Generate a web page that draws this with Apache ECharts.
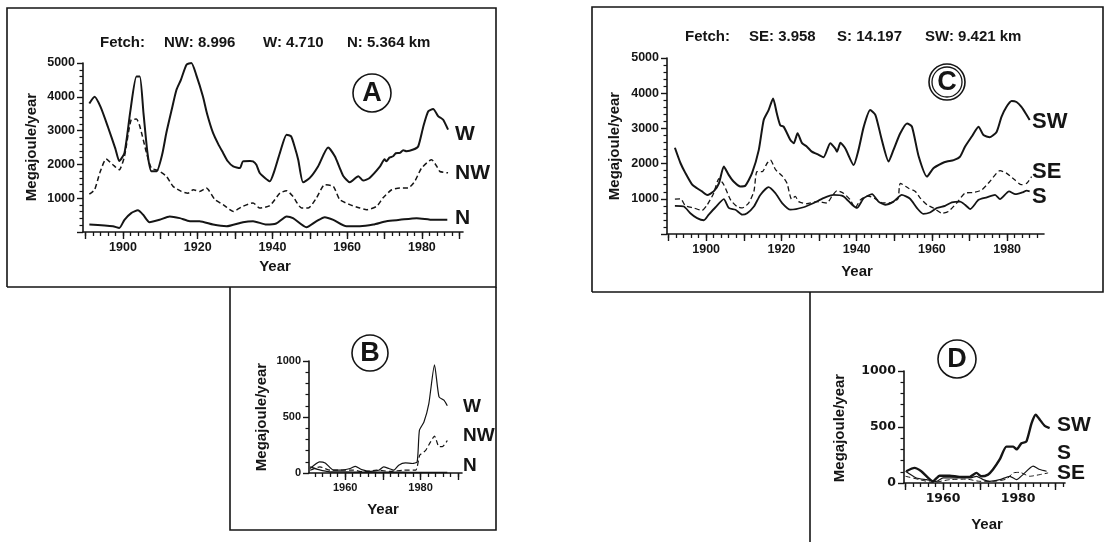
<!DOCTYPE html>
<html><head><meta charset="utf-8">
<script src="https://cdn.jsdelivr.net/npm/echarts@6/dist/echarts.min.js"></script>
<style>html,body{margin:0;padding:0;background:#fff}#c{width:1105px;height:542px}</style>
</head><body><div id="c"></div>
<script>
// ---------- DATA (year, Megajoule/year) ----------
const A_W = [[1891,3800],[1892.4,4000],[1894,3700],[1896,3100],[1898,2450],[1899,2100],[1900.4,2340],[1902,3600],[1903.6,4600],[1904.5,4600],[1905.5,3500],[1906.6,2300],[1907.6,1800],[1909,1800],[1910.5,2300],[1911.6,2930],[1913,3600],[1914.3,4200],[1915.5,4500],[1917,4950],[1918.3,5000],[1919.6,4650],[1921.4,4010],[1922.5,3500],[1924.1,2930],[1925.5,2600],[1926.8,2340],[1928,2100],[1929.5,1940],[1931.3,1890],[1932.1,2090],[1934,2100],[1934.8,2090],[1935.7,1990],[1936.6,1745],[1938,1600],[1939.3,1500],[1940.5,1800],[1942,2340],[1943.8,2880],[1945,2830],[1946,2500],[1946.9,2140],[1948.2,1470],[1950,1600],[1952.2,1940],[1954.9,2500],[1956.7,2240],[1958,1900],[1959,1650],[1960.7,1470],[1963,1650],[1964.3,1520],[1966,1600],[1968.8,1940],[1970,2150],[1970.5,2090],[1971.3,2200],[1972.3,2240],[1973,2330],[1974.1,2340],[1975,2420],[1975.9,2390],[1977.7,2440],[1979,2530],[1980.4,3130],[1981.7,3570],[1983,3640],[1984.4,3420],[1985,3380],[1985.7,3320],[1987,3030]];
const A_NW = [[1891,1120],[1892.4,1250],[1893.8,1750],[1895.5,2160],[1897.3,1990],[1899,1840],[1900.4,2240],[1902.2,3320],[1903.6,3340],[1904.5,3130],[1906.3,2340],[1907.6,1890],[1909.4,1820],[1911.6,1650],[1913.4,1350],[1915.6,1200],[1917.4,1150],[1918.8,1250],[1920.5,1200],[1922.3,1300],[1924.6,960],[1926.8,810],[1929.5,610],[1932.1,760],[1934.8,860],[1936.6,710],[1939.3,780],[1942,1150],[1943.8,1220],[1945.5,1050],[1947.8,710],[1949.6,710],[1951.8,1010],[1954,1400],[1956.3,1350],[1958,960],[1960.7,810],[1963.4,710],[1965.2,660],[1967.9,760],[1969.6,1010],[1971.9,1250],[1974.1,1300],[1976.3,1300],[1978.1,1500],[1979.9,1890],[1982.6,2140],[1984,1940],[1984.8,1790],[1987,1750]];
const A_N = [[1891,220],[1897.3,170],[1899,120],[1900.4,360],[1902.2,560],[1904,640],[1905.4,510],[1907.1,290],[1909.8,360],[1912.5,460],[1915.2,410],[1917.9,320],[1920.5,320],[1924.1,220],[1927.7,170],[1932.1,290],[1934.8,320],[1938.4,220],[1941,250],[1943.8,460],[1945.5,410],[1949.1,140],[1951.8,320],[1954,440],[1956.3,360],[1959.8,170],[1963.4,170],[1967,220],[1970.5,320],[1974.1,360],[1978.6,410],[1983,360],[1986.8,360]];

const C_SW = [[1891.7,2450],[1893.2,2010],[1894.5,1730],[1896.3,1400],[1897.6,1300],[1898.9,1210],[1900.3,1110],[1902,1210],[1903.4,1440],[1904.7,1920],[1906,1680],[1907.3,1490],[1909.1,1350],[1910.4,1370],[1912.2,1730],[1914,2390],[1915.3,3240],[1916.6,3520],[1917.8,3850],[1918.8,3420],[1919.7,3090],[1920.6,3050],[1922.4,2670],[1923.3,2580],[1924.3,2860],[1925.5,2580],[1926.8,2480],[1928.1,2340],[1929.9,2250],[1931.2,2180],[1933,2580],[1934.3,2430],[1934.8,2340],[1935.7,2590],[1937,2430],[1939.2,1960],[1940.5,2390],[1941.9,3050],[1943.6,3520],[1945,3380],[1946.7,2670],[1948.5,2060],[1949.8,2390],[1951.6,2860],[1953.4,3140],[1954.7,3050],[1956.5,2200],[1958.7,1630],[1960.4,1870],[1962.7,2010],[1964,2060],[1965.8,2100],[1967.5,2200],[1968.8,2480],[1970.6,2770],[1972.4,3050],[1973.7,2810],[1975.4,2750],[1977.2,2900],[1978.5,3330],[1979.8,3610],[1981.2,3780],[1982.5,3750],[1983.8,3610],[1985.2,3380],[1986,3240]];
const C_SE = [[1891.7,990],[1893.2,1000],[1894.5,800],[1896.7,740],[1898.9,670],[1900.3,830],[1902,1160],[1903.4,1570],[1904.7,1400],[1906.5,970],[1908.2,780],[1909.6,740],[1911.3,880],[1912.7,1210],[1913.5,1770],[1914.9,1770],[1916.2,2010],[1917.1,2100],[1918.5,1820],[1920.2,1650],[1921.5,1440],[1922.7,990],[1923.7,1070],[1924.6,920],[1926.8,860],[1929.5,920],[1932.1,880],[1933.5,1080],[1934.8,1230],[1936.5,1160],[1938.3,970],[1939.6,740],[1941,970],[1943,1080],[1945,1000],[1947,880],[1949.5,900],[1951,1000],[1951.6,1440],[1953.8,1300],[1955.6,1210],[1956.9,1020],[1958.7,830],[1960.4,740],[1962.7,590],[1964.4,640],[1966.6,880],[1968.8,1160],[1971,1180],[1973.2,1250],[1975.4,1490],[1978.1,1800],[1979.8,1730],[1982,1540],[1983.8,1400],[1985.2,1440],[1986.5,1630]];
const C_S = [[1891.7,800],[1894.1,780],[1895.8,590],[1897.6,450],[1899.4,390],[1900.7,550],[1902.5,760],[1904.7,990],[1906,740],[1907.8,690],[1909.6,550],[1910.9,590],[1912.7,780],[1914.4,1110],[1916.6,1330],[1918.4,1160],[1920.2,880],[1922.4,690],[1925.9,760],[1928.6,880],[1931.2,1020],[1933.9,1110],[1936.5,1070],[1938.8,830],[1940.1,740],[1941.9,1020],[1944.1,1130],[1945.8,920],[1947.6,830],[1949.8,920],[1952,1110],[1954.2,1000],[1956,740],[1957.7,570],[1959.5,610],[1961.3,740],[1963.5,800],[1965.3,900],[1967.5,920],[1968.8,830],[1970.2,710],[1972.4,970],[1974.6,1040],[1976.8,1110],[1978.1,990],[1980.5,1210],[1982.2,1130],[1984,1180],[1985.2,1230],[1986,1210]];

const B_W = [[1950.7,40],[1953.2,100],[1954.7,90],[1956.9,25],[1958.7,25],[1961.3,40],[1962.7,60],[1964.4,30],[1966.7,15],[1968.9,25],[1970.2,55],[1971.6,40],[1972.9,25],[1974.2,70],[1976,90],[1977.8,85],[1979.1,100],[1979.7,380],[1980.9,455],[1982.2,620],[1983.7,965],[1984.9,680],[1986.2,650],[1987.1,600]];
const B_NW = [[1950.7,25],[1953.3,55],[1956,25],[1958.7,25],[1962.2,25],[1964.9,10],[1968.4,25],[1972,15],[1975.6,25],[1978.7,25],[1979.8,160],[1981.3,200],[1982.7,280],[1983.7,330],[1984.9,235],[1985.8,235],[1987.1,290]];
const B_N = [[1950.7,55],[1953,30],[1956,10],[1960,8],[1965,6],[1970,6],[1975,6],[1980,5],[1984,5],[1987.1,5]];

const D_SW = [[1950.2,105],[1952.4,135],[1954.2,105],[1957.3,15],[1959.1,65],[1961.8,65],[1964.4,55],[1967.1,55],[1968.9,90],[1970.2,60],[1972,75],[1973.3,120],[1975.1,210],[1976.9,325],[1978.7,325],[1979.6,300],[1980.9,355],[1982.2,370],[1983.6,535],[1984.7,610],[1985.8,565],[1987.1,510],[1988.4,490]];
const D_S = [[1950,105],[1952.9,45],[1955.6,30],[1958.2,15],[1960,45],[1963.6,45],[1967.1,45],[1968.9,60],[1970.7,30],[1972.4,15],[1975.1,30],[1977.8,60],[1979.6,30],[1981.3,75],[1984,150],[1985.8,120],[1987.6,105]];
const D_SE = [[1950,60],[1953.8,30],[1957.3,5],[1961.8,30],[1966.2,35],[1969.8,15],[1973.3,15],[1976.9,35],[1978.7,90],[1980.4,95],[1983.1,60],[1985.8,75],[1988,90]];

const xLabelsLong = [1900,1920,1940,1960,1980];
const xLabelsShort = [1960,1980];
const titleA = ['Fetch:','NW: 8.996','W: 4.710','N: 5.364 km'];
const titleC = ['Fetch:','SE: 3.958','S: 14.197','SW: 9.421 km'];

// ---------- helpers ----------
const INK = '#151515';
const BOLD = 'bold 15px "Liberation Sans", Arial, sans-serif';
function range(a,b,s){const r=[];for(let v=a;v<=b+1e-9;v+=s)r.push(v);return r;}

const grids = [
  {left:83, top:63, width:380, height:169},   // A
  {left:309, top:361, width:153, height:112}, // B
  {left:667, top:58, width:377, height:176},  // C
  {left:904, top:371, width:161, height:112}  // D
];
const xr = [[1889.3,1991],[1950.4,1991],[1889.6,1989.8],[1949.6,1992.5]];
const xlab = [xLabelsLong, xLabelsShort, xLabelsLong, xLabelsShort];
const tickFont = [12.5,11,12.5,12.5];
const tickFam = ['"Liberation Sans", Arial','"Liberation Sans", Arial','"Liberation Sans", Arial','"DejaVu Sans", sans-serif'];

const xAxes = [], yAxes = [];
grids.forEach((g,i)=>{
  const [mn,mx] = xr[i];
  xAxes.push({type:'value', gridIndex:i, min:mn, max:mx, position:'bottom',
    axisLine:{lineStyle:{color:INK,width:1.6}},
    axisTick:{customValues:range(Math.ceil(mn/2)*2,mx,2), length:4, lineStyle:{color:INK,width:1.3}},
    axisLabel:{customValues:xlab[i], color:INK, fontWeight:'bold', fontSize:tickFont[i], fontFamily:tickFam[i], margin:9,
      formatter: v => String(Math.round(v))},
    splitLine:{show:false}});
  xAxes.push({type:'value', gridIndex:i, min:mn, max:mx, position:'bottom',
    axisLine:{show:false},
    axisTick:{customValues:range(Math.ceil(mn/10)*10,mx,10), length:7, lineStyle:{color:INK,width:1.4}},
    axisLabel:{show:false}, splitLine:{show:false}});
  const big = (i===0||i===2);
  yAxes.push({type:'value', gridIndex:i, min:0, max: big?5000:1000, interval: big?1000:500,
    axisLine:{show:true, lineStyle:{color:INK,width:1.6}},
    axisTick:{show:true, length:6, lineStyle:{color:INK,width:1.4}},
    minorTick:{show:true, splitNumber:5, length:3.5, lineStyle:{color:INK,width:1.2}},
    axisLabel:{color:INK, fontWeight:'bold', fontSize:tickFont[i], fontFamily:tickFam[i], margin:8,
      formatter: v => (big && v===0) ? '' : String(Math.round(v))},
    splitLine:{show:false}});
});

function ser(data, gi, width, dashed){
  return {type:'line', data, xAxisIndex:gi*2, yAxisIndex:gi, showSymbol:false, smooth:0.2,
    lineStyle:{color:INK, width, type: dashed ? [5,3] : 'solid'}, silent:true, animation:false, z:3};
}
const series = [
  ser(A_W,0,2,false), ser(A_NW,0,1.5,true), ser(A_N,0,2,false),
  ser(B_W,1,1.2,false), ser(B_NW,1,1.2,true), ser(B_N,1,1.5,false),
  ser(C_SW,2,2,false), ser(C_SE,2,1.3,true), ser(C_S,2,1.8,false),
  ser(D_SW,3,2.4,false), ser(D_S,3,1.2,false), ser(D_SE,3,1,true)
];

// ---------- graphics: frames, titles, names, labels ----------
const G = [];
function line(pts,w){G.push({type:'polyline', shape:{points:pts}, style:{stroke:INK, lineWidth:w||1.6, fill:null}, silent:true});}
function txt(x,y,t,font,align,rot){
  G.push({type:'text', x, y, rotation: rot||0, style:{x:0,y:0,text:t,font,fill:INK,align:align||'left',verticalAlign:'middle'}, silent:true});
}
function circ(cx,cy,r,letter,dbl){
  G.push({type:'circle', shape:{cx,cy,r}, style:{stroke:INK,lineWidth:1.6,fill:'#fff'}, silent:true});
  if(dbl) G.push({type:'circle', shape:{cx,cy,r:r-3}, style:{stroke:INK,lineWidth:1.3,fill:null}, silent:true});
  txt(cx,cy+1,letter,'bold 27px "Liberation Sans", Arial, sans-serif','center');
}
// frames
line([[7,287],[7,8],[496,8],[496,287],[7,287]]);
line([[230,287],[230,530],[496,530],[496,287]]);
line([[592,292],[592,7],[1103,7],[1103,292],[592,292]]);
line([[810,292],[810,542]]);
// titles
const tA=[100,164,263,347]; titleA.forEach((t,i)=>txt(tA[i],43,t,BOLD,'left'));
const tC=[685,749,837,925]; titleC.forEach((t,i)=>txt(tC[i],37,t,BOLD,'left'));
// axis names
txt(32,147,'Megajoule/year',BOLD,'center',Math.PI/2);
txt(275,267,'Year',BOLD,'center');
txt(615,146,'Megajoule/year',BOLD,'center',Math.PI/2);
txt(857,272,'Year',BOLD,'center');
txt(262,417,'Megajoule/year',BOLD,'center',Math.PI/2);
txt(383,510,'Year',BOLD,'center');
txt(840,428,'Megajoule/year',BOLD,'center',Math.PI/2);
txt(987,525,'Year',BOLD,'center');
// series names
const L21='bold 21px "Liberation Sans", Arial, sans-serif';
const L22='bold 22px "Liberation Sans", Arial, sans-serif';
const L19='bold 19px "Liberation Sans", Arial, sans-serif';
txt(455,134,'W',L21); txt(455,173,'NW',L21); txt(455,218,'N',L21);
txt(1032,122,'SW',L22); txt(1032,172,'SE',L22); txt(1032,197,'S',L22);
txt(463,407,'W',L19); txt(463,436,'NW',L19); txt(463,466,'N',L19);
txt(1057,425,'SW',L21); txt(1057,453,'S',L21); txt(1057,473,'SE',L21);
// panel letters
circ(372,93,19,'A',false);
circ(947,82,18,'C',true);
circ(370,353,18,'B',false);
circ(957,359,19,'D',false);

const chart = echarts.init(document.getElementById('c'), null, {renderer:'canvas'});
chart.setOption({backgroundColor:'#fff', animation:false, grid:grids, xAxis:xAxes, yAxis:yAxes, series, graphic:G});
</script></body></html>
